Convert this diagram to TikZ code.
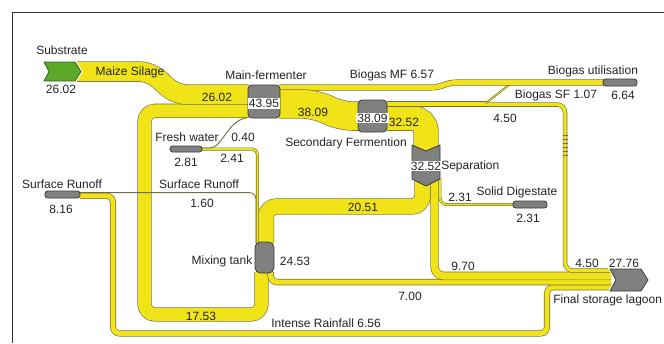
\documentclass[tikz,border=0pt]{standalone}
\usepackage{fontspec}
\setmainfont{Liberation Sans}
\definecolor{bandc}{RGB}{240,228,24}
\definecolor{edgec}{RGB}{115,108,70}
\definecolor{boxc}{RGB}{128,128,128}
\definecolor{boxe}{RGB}{60,60,60}
\definecolor{grn}{RGB}{92,168,40}
\definecolor{grne}{RGB}{50,100,30}
\definecolor{txt}{RGB}{35,35,35}
\newcommand\flw[3][]{%
  \draw[edgec,line width=#2*0.75pt+0.9pt,#1] #3;
  \draw[bandc,line width=#2*0.75pt,#1] #3;}
\begin{document}
\begin{tikzpicture}[x=0.75pt,y=-0.75pt,
  lbl/.style={font=\fontsize{9}{10}\selectfont, text=txt, inner sep=0pt},
  gbox/.style={draw=boxe, fill=boxc, line width=0.6pt, inner sep=0pt, outer sep=0pt},
  inlbl/.style={lbl, fill=white, inner sep=0.8pt},
  thin line/.style={draw=edgec, line width=0.7pt}]
\useasboundingbox (0,0) rectangle (664,343);
% frame
\draw[black!80, line width=1.1pt] (12.5,343) -- (12.5,12.5) -- (664,12.5);

% ---- coordinates of ports
\coordinate (srR) at (80,195.8);
\coordinate (mtB1) at (261.5,272);
\coordinate (mtB2) at (270.6,272);
\coordinate (laIn1) at (611,270.6);
\coordinate (laIn2) at (611,275.9);
\coordinate (laIn3) at (611,282.1);
\coordinate (laIn4) at (611,287.2);

% ---- flows (back to front)
% Intense rainfall 6.56
\flw[rounded corners=5pt]{4.9}{(srR) -- (113,195.8) -- (113,333.5) -- (547,333.5) -- (547,287.2) -- (laIn4)}
% 17.53 loop mixing tank -> main fermenter
\flw[rounded corners=8pt]{13}{(mtB1) -- (261.5,314.5) -- (144.5,314.5) -- (144.5,110.8) -- (249,110.8)}
% Surface runoff 1.60
\draw[thin line, rounded corners=5pt] (80,192.6) -- (256,192.6) -- (256,243);
% 7.00
\flw[rounded corners=5pt]{5.2}{(mtB2) -- (270.6,282.1) -- (laIn3)}
% 9.70
\flw[rounded corners=7pt]{7.2}{(434.5,178) -- (434.5,275.9) -- (laIn2)}
% 4.50
\flw[rounded corners=6pt]{3.3}{(485,104.5) -- (565,104.5) -- (565,270.6) -- (laIn1)}
\foreach \yy in {135,139,...,155} \draw[edgec, line width=0.4pt] (562.5,\yy) -- (567.5,\yy);
% 20.51
\flw[rounded corners=8pt]{15.2}{(422.5,178) -- (422.5,206.5) -- (265.9,206.5) -- (265.9,243)}
% 2.31
\flw[rounded corners=5pt]{1.7}{(440,178) -- (440,204.5) -- (514,204.5)}
% 2.41
\flw[rounded corners=4pt]{1.8}{(202,149) -- (257.4,149) -- (257.4,243)}
% 0.40
\draw[thin line] (202,148) -- (210,148) .. controls (222,148) and (228,120) .. (247,117.8);
% 32.52
\flw[rounded corners=10pt]{24.1}{(387,118.15) -- (426,118.15) -- (426,150)}
% Biogas SF 5.57 and 1.07
\flw{4.1}{(387,104.05) -- (489,104.05)}
\flw[rounded corners=2pt]{0.8}{(486,103) -- (510,84) -- (520,84)}
% Biogas MF 6.57
\flw[rounded corners=4pt]{4.9}{(279,87.45) -- (437,87.45) -- (451,82.5) -- (604,82.5)}
% 38.09
\flw[rounded corners=10pt]{28.2}{(279,104) -- (316,104) -- (340,116.1) -- (359,116.1)}
% Maize silage 26.02
\flw[rounded corners=8pt]{19.3}{(77,71.5) -- (150,71.5) -- (176,94.6) -- (249,94.6)}

% ---- boxes
\draw[fill=grn, draw=grne, line width=0.6pt, preaction={draw=white, line width=2.2pt}]
  (44,62) -- (75,62) -- (81,71.5) -- (75,81) -- (44,81) -- (49,71.5) -- cycle;
\coordinate (sub) at (62,71.5);
\node[gbox, rounded corners=3pt, minimum width=24pt, minimum height=24.75pt] (mf) at (264,101.5) {};
\node[inlbl, minimum width=22pt] at (264,103.5) {43.95};
\node[gbox, rounded corners=3pt, minimum width=21.75pt, minimum height=24pt] (sf) at (372.5,116) {};
\node[inlbl, minimum width=20pt] at (372.5,118) {38.09};
\draw[gbox, line join=round] (412,145) -- (426,151) -- (440,145) -- (440,179) -- (426,186) -- (412,179) -- cycle;
\coordinate (sep) at (426,166);
\node[inlbl, minimum width=20pt] at (426,166) {32.52};
\node[gbox, rounded corners=4pt, minimum width=14.25pt, minimum height=23.25pt] (mt) at (264.5,257.5) {};
\draw[gbox, line join=round, preaction={draw=white, line width=2pt}]
  (610,269) -- (641,269) -- (648,280) -- (641,291) -- (610,291) -- (616,280) -- cycle;
\coordinate (la) at (630,280);
\node[gbox, rounded corners=2pt, minimum width=26.25pt, minimum height=5.25pt] (sr) at (62.5,194.5) {};
\node[gbox, rounded corners=2pt, minimum width=24pt, minimum height=4.5pt] (fw) at (186,149) {};
\node[gbox, rounded corners=2pt, minimum width=25.5pt, minimum height=5.25pt] (bu) at (620,82.5) {};
\node[gbox, rounded corners=2pt, minimum width=25.5pt, minimum height=5.25pt] (sd) at (530,204.5) {};

% ---- labels
\node[lbl] (tSub) at (62,50) {Substrate};
\node[lbl] (tSubV) at (61,89) {26.02};
\node[lbl] (tMS) at (130,72) {Maize Silage};
\node[lbl] (tMF) at (266,75) {Main-fermenter};
\node[lbl] (tMSV) at (217,97) {26.02};
\node[lbl] (tBMF) at (392,75) {Biogas MF 6.57};
\node[lbl] (tBU) at (593,71) {Biogas utilisation};
\node[lbl] (tBSF) at (556,95) {Biogas SF 1.07};
\node[lbl] (tBUV) at (623,95) {6.64};
\node[lbl] (t3809) at (313,112) {38.09};
\node[lbl] (t3252) at (404,122) {32.52};
\node[lbl] (tSF) at (346,143) {Secondary Fermention};
\node[lbl] (t450a) at (505,118) {4.50};
\node[lbl] (tFW) at (187,137) {Fresh water};
\node[lbl] (t040) at (243,137) {0.40};
\node[lbl] (t281) at (186,162) {2.81};
\node[lbl] (t241) at (232,158) {2.41};
\node[lbl] (tSR) at (62,184) {Surface Runoff};
\node[lbl] (t816) at (61,209) {8.16};
\node[lbl] (tSR2) at (199,184) {Surface Runoff};
\node[lbl] (t160) at (202,203) {1.60};
\node[lbl, anchor=west] (tSep) at (441,166) {Separation};
\node[lbl] (t2051) at (363,207) {20.51};
\node[lbl] (t231a) at (460,197) {2.31};
\node[lbl] (tSD) at (517,192) {Solid Digestate};
\node[lbl] (t231b) at (528,218) {2.31};
\node[lbl] (tMT) at (222,261) {Mixing tank};
\node[lbl] (t2453) at (295,261) {24.53};
\node[lbl] (t970) at (463,266) {9.70};
\node[lbl] (t700) at (410,296) {7.00};
\node[lbl] (t1753) at (201,316) {17.53};
\node[lbl] (tIR) at (326,323) {Intense Rainfall 6.56};
\node[lbl] (t450b) at (587,263) {4.50};
\node[lbl] (t2776) at (624,263) {27.76};
\node[lbl, anchor=west] (tFSL) at (553,300) {Final storage lagoon};
\end{tikzpicture}
\end{document}
